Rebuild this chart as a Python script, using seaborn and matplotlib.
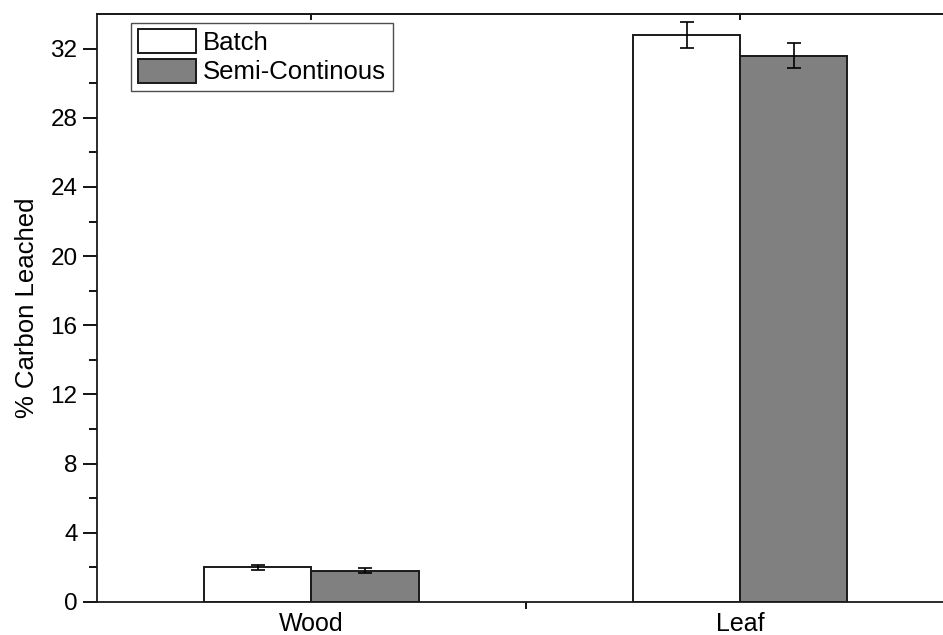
import matplotlib
matplotlib.use("Agg")
import matplotlib.pyplot as plt
import seaborn as sns
import pandas as pd
import numpy as np

# ---- data ----
categories = ["Wood", "Leaf"]
methods = ["Batch", "Semi-Continous"]
batch_vals = [2.0, 32.8]
semi_vals = [1.8, 31.6]
batch_err = [0.16, 0.75]
semi_err = [0.15, 0.72]
y_ticks = [0, 4, 8, 12, 16, 20, 24, 28, 32]

sns.set_theme(style="ticks")
plt.rcParams['font.family'] = ['Liberation Sans', 'DejaVu Sans']
plt.rcParams.update({"text.color": "black", "axes.labelcolor": "black",
                     "xtick.color": "black", "ytick.color": "black",
                     "axes.edgecolor": "black"})

df = pd.DataFrame({
    "category": categories * 2,
    "method": [methods[0]] * 2 + [methods[1]] * 2,
    "value": batch_vals + semi_vals,
    "err": batch_err + semi_err,
})

fig = plt.figure(figsize=(9.43, 6.35), dpi=100)
ax = fig.add_axes([97/943, 33/635, 857.5/943, 588/635])

palette = {"Batch": "#ffffff", "Semi-Continous": "#808080"}
sns.barplot(data=df, x="category", y="value", hue="method", order=categories,
            hue_order=methods, palette=palette, width=0.5, gap=0, errorbar=None,
            edgecolor="#1a1a1a", linewidth=1.4, saturation=1, ax=ax)

# error bars at bar centres
for container, m in zip(ax.containers, methods):
    sub = df[df.method == m].set_index("category").loc[categories]
    xs = [p.get_x() + p.get_width() / 2 for p in container.patches]
    ax.errorbar(xs, sub["value"].values, yerr=sub["err"].values, fmt="none",
                ecolor="black", elinewidth=1.2, capsize=5, capthick=1.2)

ax.set_xlim(-0.5, 1.5)
ax.set_ylim(0, 34)
ax.set_yticks(y_ticks)
ax.set_yticks(np.arange(2, 34, 4), minor=True)
ax.set_xticks([0, 1])
ax.set_xticklabels(categories)
ax.set_xticks([0.5], minor=True)
ax.tick_params(axis="x", which="major", length=0, labelsize=18, pad=7,
               labelcolor="black")
ax.tick_params(axis="x", which="minor", length=5, width=1.3, direction="out",
               color="black")
ax.tick_params(axis="y", which="major", length=10, width=1.3, direction="out",
               labelsize=17.5, pad=4, color="black", labelcolor="black")
ax.tick_params(axis="y", which="minor", length=6, width=1.3, direction="out",
               color="black")
ax.set_xlabel("")
ax.set_ylabel("% Carbon Leached", fontsize=18.5, labelpad=8, color="black")
for s in ax.spines.values():
    s.set_linewidth(1.3)
    s.set_color("#1a1a1a")

secax = ax.secondary_xaxis("top")
secax.set_xticks([0, 1])
secax.set_xticklabels(["", ""])
secax.tick_params(length=4, width=1.3, direction="in", color="black")
secax.spines["top"].set_linewidth(1.3)
secax.spines["top"].set_color("#1a1a1a")

handles, labels = ax.get_legend_handles_labels()
leg = ax.legend(handles, labels, loc="upper left", bbox_to_anchor=(0.04, 0.985),
                borderaxespad=0, fontsize=18.5, frameon=True, fancybox=False,
                handlelength=2.25, handleheight=1.05, handletextpad=0.3,
                labelspacing=0.15, borderpad=0.25)
leg.get_frame().set_edgecolor("#222222")
leg.get_frame().set_linewidth(1.0)
for t in leg.get_texts():
    t.set_color("black")

fig.savefig("out.png", dpi=100)
